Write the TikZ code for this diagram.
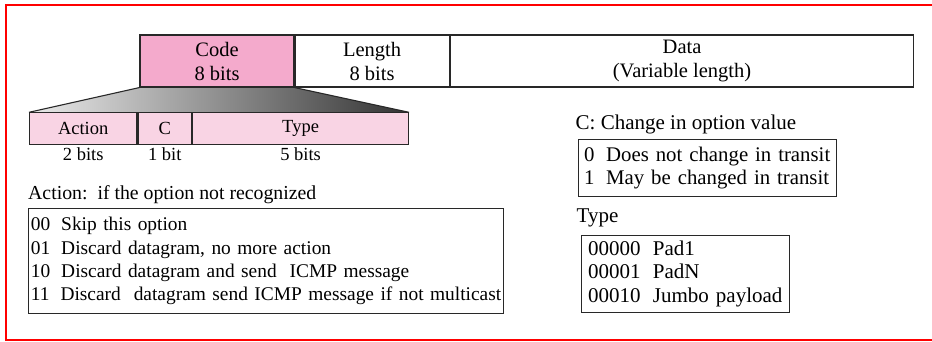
\documentclass[tikz,border=0pt]{standalone}
\usepackage{fontspec}
\setmainfont{Liberation Serif}
\usetikzlibrary{calc,backgrounds}
\definecolor{codepink}{RGB}{244,170,204}
\definecolor{subpink}{RGB}{249,212,228}
\definecolor{edge}{RGB}{40,40,40}
\definecolor{framered}{RGB}{255,0,0}
\begin{document}
\begin{tikzpicture}[x=1pt,y=-1pt,
  field/.style={draw=edge, line width=1.1pt, inner sep=0pt, align=center,
    font=\fontsize{20.5}{24}\selectfont, minimum height=52pt},
  subfield/.style={draw=edge, line width=1.1pt, inner sep=0pt, fill=subpink,
    minimum height=32pt, font=\fontsize{18.5}{22}\selectfont},
  bitlabel/.style={inner sep=0pt, font=\fontsize{18.5}{22}\selectfont},
  heading/.style={inner sep=0pt, anchor=west},
  listbox/.style={draw=edge, line width=1.1pt, anchor=north west, align=left,
    inner ysep=0pt}
]
\useasboundingbox (0,0) rectangle (932,341);

% outer frame
\draw[framered, line width=2pt] (932,5) -- (6,5) -- (6,340.5);
\draw[framered, line width=1.5pt] (6,340.2) -- (932,340.2);

% option header fields
\node[field, fill=codepink, minimum width=154pt] (code) at (217,61) {Code\\8 bits};
\node[field, minimum width=154pt, anchor=west] (len) at (code.east) {Length\\8 bits};
\node[field, minimum width=463.7pt, anchor=west] (data) at (len.east) {Data\\(Variable length)};

% breakdown of the code field
\node[subfield, minimum width=107.3pt, anchor=north west] (act) at (29,112.3) {Action};
\node[subfield, minimum width=53.7pt, anchor=west] (cbit) at (act.east) {C};
\node[subfield, minimum width=215.7pt, anchor=west] (typ) at (cbit.east) {Type};

\node[bitlabel] (actbits) at ($(act.south)+(0,9)$) {2 bits};
\node[bitlabel] (cbits) at ($(cbit.south)+(0,9)$) {1 bit};
\node[bitlabel] (typbits) at ($(typ.south)+(0,9)$) {5 bits};

% expanding wedge from code to its subfields
\begin{pgfonlayer}{background}
  \shade[left color=black!8, right color=black!80]
    (code.south west) -- (code.south east) -- (typ.north east) -- (act.north west) -- cycle;
\end{pgfonlayer}
\draw[edge, line width=1.1pt] (code.south west) -- (act.north west);
\draw[edge, line width=1.1pt] (code.south east) -- (typ.north east);

% action legend
\node[heading, font=\fontsize{19.8}{23.33}\selectfont] (acthead) at (28,195)
  {Action:\ \ if the option not recognized};
\node[listbox, font=\fontsize{19.4}{23.33}\selectfont, minimum width=475pt,
  minimum height=104.4pt, text width=471pt, inner xsep=2pt] (actlist) at (28.3,208.3)
  {\mbox{00\hspace{11pt}Skip this option}\\
   \mbox{01\hspace{11pt}Discard datagram, no more action}\\
   \mbox{10\hspace{11pt}Discard datagram and send\ \ ICMP message}\\
   \mbox{11\hspace{11pt}Discard\ \ datagram send ICMP message if not multicast}};

% C bit legend
\node[heading, font=\fontsize{21}{23.33}\selectfont] (chead) at (575.5,124)
  {C: Change in option value};
\node[listbox, font=\fontsize{20.8}{23.33}\selectfont, minimum width=257.4pt,
  minimum height=56.7pt, text width=247pt, inner xsep=5.2pt] (clist) at (578.3,139.3)
  {\mbox{0\hspace{11.7pt}Does not change in transit}\\
   \mbox{1\hspace{11.7pt}May be changed in transit}};

% type legend
\node[heading, font=\fontsize{21}{23.33}\selectfont] (thead) at (576.5,218) {Type};
\node[listbox, font=\fontsize{21}{23.33}\selectfont, minimum width=208pt,
  minimum height=76.7pt, text width=194.4pt, inner xsep=6.8pt] (tlist) at (580.7,235)
  {\mbox{00000\hspace{12.4pt}Pad1}\\
   \mbox{00001\hspace{12.4pt}PadN}\\
   \mbox{00010\hspace{12.4pt}Jumbo payload}};
\end{tikzpicture}
\end{document}
